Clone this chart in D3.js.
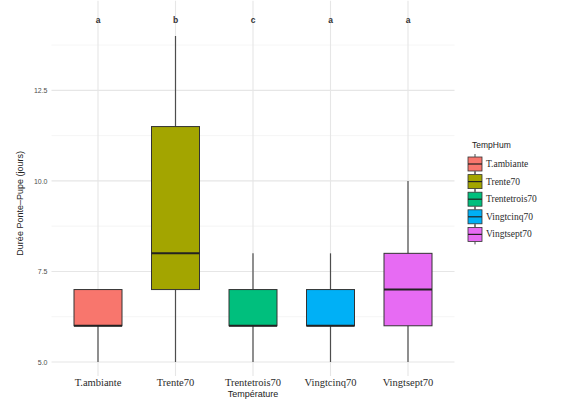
<!DOCTYPE html>
<html>
<head>
<meta charset="utf-8">
<script src="https://cdn.jsdelivr.net/npm/d3@7"></script>
<style>
  html, body { margin: 0; padding: 0; background: #fff; }
  svg { display: block; }
</style>
</head>
<body>
<svg id="chart" width="566" height="406"></svg>
<script>
// Durée ponte–pupe par traitement température/humidité
const categories   = ["T.ambiante", "Trente70", "Trentetrois70", "Vingtcinq70", "Vingtsept70"];
const whiskerLow   = [5, 5, 5, 5, 5];
const q1           = [6, 7, 6, 6, 6];
const medians      = [6, 8, 6, 6, 7];
const q3           = [7, 11.5, 7, 7, 8];
const whiskerHigh  = [7, 14, 8, 8, 10];
const groupLetters = ["a", "b", "c", "a", "a"];
const letterY      = 14.45;
const yTicks       = [5, 7.5, 10, 12.5];
const yMinorTicks  = [6.25, 8.75, 11.25, 13.75];
const colors       = ["#F8766D", "#A3A500", "#00BF7D", "#00B0F6", "#E76BF3"];

const rows = categories.map((c, i) => ({
  cat: c, lo: whiskerLow[i], q1: q1[i], med: medians[i], q3: q3[i], hi: whiskerHigh[i],
  letter: groupLetters[i], color: colors[i]
}));

const svg = d3.select("#chart");
const panel = { left: 51.5, right: 454.5, top: 0.7, bottom: 376 };

const x = d3.scaleBand()
  .domain(categories)
  .range([panel.left, panel.right])
  .paddingOuter(0.1)
  .paddingInner(0);

const y = d3.scaleLinear()
  .domain([5, 14])
  .range([362, 36]);

const bw = x.bandwidth();
const cx = d => x(d) + bw / 2;
const boxW = 48;

// grid
const grid = svg.append("g");
grid.selectAll(".minor").data(yMinorTicks).join("line")
  .attr("x1", panel.left).attr("x2", panel.right)
  .attr("y1", d => y(d)).attr("y2", d => y(d))
  .attr("stroke", "#efefef").attr("stroke-width", 0.6);
grid.selectAll(".major").data(yTicks).join("line")
  .attr("x1", panel.left).attr("x2", panel.right)
  .attr("y1", d => y(d)).attr("y2", d => y(d))
  .attr("stroke", "#e6e6e6").attr("stroke-width", 1.1);
grid.selectAll(".vx").data(categories).join("line")
  .attr("x1", d => cx(d)).attr("x2", d => cx(d))
  .attr("y1", panel.top).attr("y2", panel.bottom)
  .attr("stroke", "#e6e6e6").attr("stroke-width", 1.1);

// y axis
const yAxis = d3.axisLeft(y).tickValues(yTicks).tickFormat(d3.format(".1f")).tickSize(0).tickPadding(4);
const ya = svg.append("g").attr("transform", `translate(${panel.left},0)`).call(yAxis);
ya.select(".domain").remove();
ya.selectAll("text").attr("fill", "#4d4d4d").style("font-family", "Liberation Sans, Arial, sans-serif").style("font-size", "7px");

// x axis
const xAxis = d3.axisBottom(x).tickSize(0).tickPadding(3);
const xa = svg.append("g").attr("transform", `translate(0,${panel.bottom})`).call(xAxis);
xa.select(".domain").remove();
xa.selectAll("text").attr("fill", "#2b2b2b").style("font-family", "Liberation Serif, Times New Roman, serif").style("font-size", "10.5px");

// boxes
const boxes = svg.append("g").selectAll("g").data(rows).join("g");
boxes.append("line")
  .attr("x1", d => cx(d.cat)).attr("x2", d => cx(d.cat))
  .attr("y1", d => y(d.hi)).attr("y2", d => y(d.q3))
  .attr("stroke", "#4d4d4d").attr("stroke-width", 1.2);
boxes.append("line")
  .attr("x1", d => cx(d.cat)).attr("x2", d => cx(d.cat))
  .attr("y1", d => y(d.q1)).attr("y2", d => y(d.lo))
  .attr("stroke", "#4d4d4d").attr("stroke-width", 1.2);
boxes.append("rect")
  .attr("x", d => cx(d.cat) - boxW / 2)
  .attr("width", boxW)
  .attr("y", d => y(d.q3))
  .attr("height", d => y(d.q1) - y(d.q3))
  .attr("fill", d => d.color)
  .attr("stroke", "#333").attr("stroke-width", 1);
boxes.append("line")
  .attr("x1", d => cx(d.cat) - boxW / 2).attr("x2", d => cx(d.cat) + boxW / 2)
  .attr("y1", d => y(d.med)).attr("y2", d => y(d.med))
  .attr("stroke", "#222").attr("stroke-width", 2);

// group letters
svg.append("g").selectAll("text").data(rows).join("text")
  .attr("x", d => cx(d.cat)).attr("y", y(letterY))
  .attr("text-anchor", "middle").attr("dominant-baseline", "central")
  .attr("fill", "#333").style("font-family", "Liberation Sans, Arial, sans-serif")
  .style("font-size", "8.5px").style("font-weight", "bold")
  .text(d => d.letter);

// axis titles
svg.append("text")
  .attr("x", (panel.left + panel.right) / 2).attr("y", 397)
  .attr("text-anchor", "middle").attr("fill", "#222")
  .style("font-family", "Liberation Sans, Arial, sans-serif").style("font-size", "9px")
  .text("Température");
svg.append("text")
  .attr("transform", `translate(23,${(panel.top + panel.bottom) / 2 + 15}) rotate(-90)`)
  .attr("text-anchor", "middle").attr("fill", "#222")
  .style("font-family", "Liberation Sans, Arial, sans-serif").style("font-size", "9px")
  .text("Durée Ponte–Pupe (jours)");

// legend
const legend = svg.append("g").attr("transform", "translate(467,0)");
legend.append("text").attr("x", 5).attr("y", 148)
  .attr("fill", "#222").style("font-family", "Liberation Sans, Arial, sans-serif").style("font-size", "8.5px")
  .text("TempHum");
const li = legend.selectAll("g").data(rows).join("g")
  .attr("transform", (d, i) => `translate(0,${156 + i * 17.6})`);
li.append("rect").attr("x", 1).attr("y", 1).attr("width", 14).attr("height", 14)
  .attr("fill", d => d.color).attr("stroke", "#333").attr("stroke-width", 0.8);
li.append("line").attr("x1", 1).attr("x2", 15).attr("y1", 8).attr("y2", 8)
  .attr("stroke", "#222").attr("stroke-width", 1.2);
li.append("line").attr("x1", 8).attr("x2", 8).attr("y1", -2).attr("y2", 1)
  .attr("stroke", "#4d4d4d").attr("stroke-width", 1);
li.append("line").attr("x1", 8).attr("x2", 8).attr("y1", 15).attr("y2", 18)
  .attr("stroke", "#4d4d4d").attr("stroke-width", 1);
li.append("text").attr("x", 19).attr("y", 8).attr("dominant-baseline", "central")
  .attr("fill", "#2b2b2b").style("font-family", "Liberation Serif, Times New Roman, serif").style("font-size", "9.5px")
  .text(d => d.cat);
</script>
</body>
</html>
